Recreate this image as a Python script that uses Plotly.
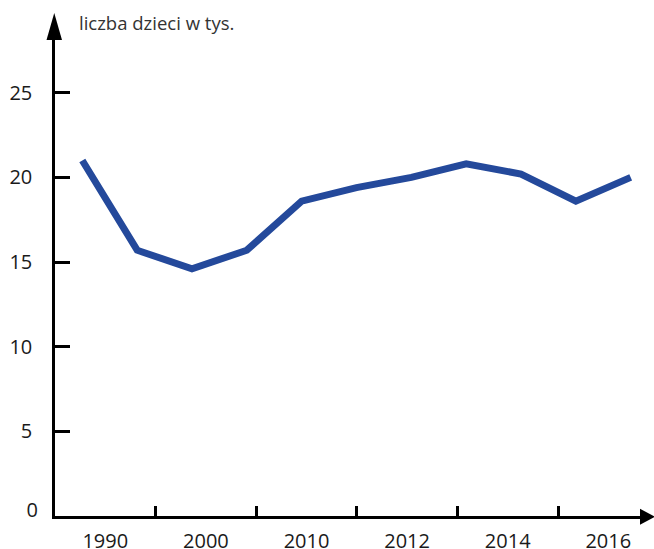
import plotly.graph_objects as go

# Data
years = [1990, 1995, 2000, 2005, 2010, 2011, 2012, 2013, 2014, 2015, 2016]
children_k = [21.0, 15.7, 14.6, 15.7, 18.6, 19.4, 20.0, 20.8, 20.2, 18.6, 20.0]
tick_labels = ["1990", "2000", "2010", "2012", "2014", "2016"]
y_ticks = [5, 10, 15, 20, 25]
y_zero = [0]
title_text = "liczba dzieci w tys."

FONT = "Open Sans"
LINE_COLOR = "#24499b"

idx = list(range(len(years)))

fig = go.Figure()
fig.add_trace(go.Scatter(
    x=idx, y=children_k, mode="lines",
    line=dict(color=LINE_COLOR, width=7),
    customdata=years, hovertemplate="%{customdata}: %{y}<extra></extra>",
    showlegend=False,
))

# plot area geometry: left 55, right 640, top 40, bottom 516
W, H = 654, 549
ml, mr, mt, mb = 55, 14, 40, 33
plot_w = W - ml - mr
plot_h = H - mt - mb
px_per_unit = 16.93
pt_step = 54.84   # px per data point
band = 100.6      # px per label band
x0_px = 82.3 - ml
xr = [-x0_px / pt_step, (plot_w - x0_px) / pt_step]
bands_range = [0, plot_w / band]
yr = [0, plot_h / px_per_unit]
zero_shift = 6 / px_per_unit  # "0" label sits slightly above the x axis

tf = dict(family=FONT, size=20, color="#1a1a1a")

fig.update_layout(
    width=W, height=H,
    margin=dict(l=ml, r=mr, t=mt, b=mb, autoexpand=False),
    plot_bgcolor="white", paper_bgcolor="white",
    font=dict(family=FONT, color="#1a1a1a", size=20),
    xaxis=dict(range=xr, showline=True, linecolor="black", linewidth=2.5, automargin=False,
               showgrid=False, zeroline=False, showticklabels=False, ticks=""),
    xaxis2=dict(range=bands_range, overlaying="x", anchor="y", side="bottom", automargin=False,
                tickmode="array", tickvals=list(range(1, len(tick_labels))),
                ticks="inside", ticklen=10, tickwidth=2.5, tickcolor="black",
                showticklabels=False, showgrid=False, zeroline=False, showline=False),
    xaxis3=dict(range=bands_range, overlaying="x", anchor="y", side="bottom", automargin=False,
                tickmode="array", tickvals=[i + 0.5 for i in range(len(tick_labels))],
                ticktext=tick_labels, ticks="", ticklabelstandoff=11,
                showgrid=False, zeroline=False, showline=False, tickfont=tf),
    yaxis=dict(range=yr, showline=True, linecolor="black", linewidth=2.5,
               automargin=False,
               tickmode="array", tickvals=y_ticks, ticktext=[str(v) for v in y_ticks],
               ticks="inside", ticklen=15, tickwidth=2.5, tickcolor="black",
               ticklabelstandoff=16, showgrid=False, zeroline=False, tickfont=tf),
    yaxis2=dict(range=[yr[0] - zero_shift, yr[1] - zero_shift], overlaying="y", anchor="x",
                side="left", automargin=False, showline=False,
                tickmode="array", tickvals=y_zero, ticktext=[str(v) for v in y_zero],
                ticks="", ticklabelstandoff=16, showgrid=False, zeroline=False, tickfont=tf),
)

# helper traces so overlay axes render
fig.add_trace(go.Scatter(x=[None], y=[None], xaxis="x2", yaxis="y", showlegend=False, hoverinfo="skip"))
fig.add_trace(go.Scatter(x=[None], y=[None], xaxis="x3", yaxis="y", showlegend=False, hoverinfo="skip"))
fig.add_trace(go.Scatter(x=[None], y=[None], xaxis="x", yaxis="y2", showlegend=False, hoverinfo="skip"))

# arrowheads
fig.add_shape(type="path", xref="paper", yref="paper", xsizemode="pixel", ysizemode="pixel",
              xanchor=0, yanchor=1, path="M -8.5 0 L 7 0 L -0.75 27 Z",
              fillcolor="black", line=dict(width=0))
fig.add_shape(type="path", xref="paper", yref="paper", xsizemode="pixel", ysizemode="pixel",
              xanchor=1, yanchor=0, path="M 0 -8.8 L 0 7.2 L 15 -0.8 Z",
              fillcolor="black", line=dict(width=0))

fig.add_annotation(text=title_text, xref="paper", yref="paper", x=0, y=1,
                   xanchor="left", yanchor="middle", xshift=22, yshift=18,
                   showarrow=False, font=dict(family=FONT, size=18.5, color="#333333"))

fig.write_html("out.html", config={"displayModeBar": False},
               post_script="document.body.style.margin='0';document.body.style.overflow='hidden';")
